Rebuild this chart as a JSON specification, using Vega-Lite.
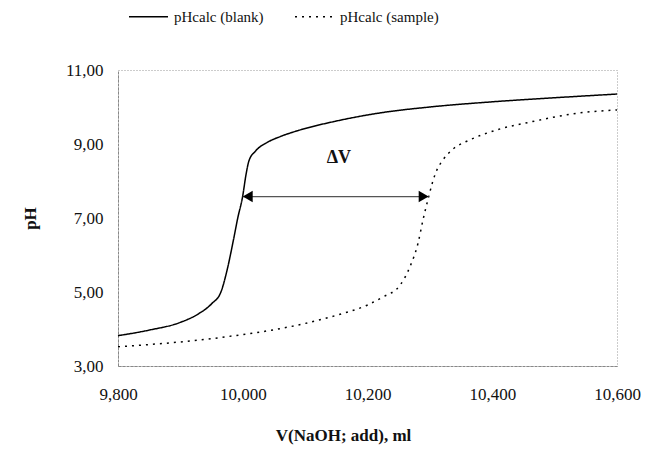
{
  "$schema": "https://vega.github.io/schema/vega-lite/v6.json",
  "width": 499,
  "height": 296,
  "autosize": {"type": "none"},
  "padding": {"left": 118, "top": 70, "right": 30, "bottom": 87},
  "background": "white",
  "config": {
    "font": "Liberation Serif",
    "locale": {"number": {"decimal": ",", "thousands": ".", "grouping": [3], "currency": ["", " €"]}},
    "view": {"stroke": "#999999", "strokeDash": [1, 2], "strokeWidth": 1},
    "axis": {
      "labelFont": "Liberation Serif", "labelFontSize": 17, "labelColor": "#111111",
      "labelOverlap": false, "labelFlush": false, "grid": false, "ticks": false,
      "titleFont": "Liberation Serif", "titleFontSize": 17, "titleFontWeight": "bold",
      "titleColor": "#111111",
      "domainColor": "#888888", "domainDash": [3, 1], "domainWidth": 1
    }
  },
  "datasets": {
    "curves": [
      {"series": "pHcalc (blank)", "V": 9.80, "pH": 3.82},
      {"series": "pHcalc (blank)", "V": 9.85, "pH": 3.97},
      {"series": "pHcalc (blank)", "V": 9.90, "pH": 4.18},
      {"series": "pHcalc (blank)", "V": 9.93, "pH": 4.42},
      {"series": "pHcalc (blank)", "V": 9.95, "pH": 4.68},
      {"series": "pHcalc (blank)", "V": 9.965, "pH": 5.0},
      {"series": "pHcalc (blank)", "V": 9.975, "pH": 5.6},
      {"series": "pHcalc (blank)", "V": 9.985, "pH": 6.4},
      {"series": "pHcalc (blank)", "V": 9.992, "pH": 7.0},
      {"series": "pHcalc (blank)", "V": 10.0, "pH": 7.6},
      {"series": "pHcalc (blank)", "V": 10.005, "pH": 8.15},
      {"series": "pHcalc (blank)", "V": 10.01, "pH": 8.55},
      {"series": "pHcalc (blank)", "V": 10.02, "pH": 8.8},
      {"series": "pHcalc (blank)", "V": 10.04, "pH": 9.05},
      {"series": "pHcalc (blank)", "V": 10.06, "pH": 9.2},
      {"series": "pHcalc (blank)", "V": 10.09, "pH": 9.37},
      {"series": "pHcalc (blank)", "V": 10.15, "pH": 9.62},
      {"series": "pHcalc (blank)", "V": 10.22, "pH": 9.84},
      {"series": "pHcalc (blank)", "V": 10.3, "pH": 10.0},
      {"series": "pHcalc (blank)", "V": 10.4, "pH": 10.14},
      {"series": "pHcalc (blank)", "V": 10.5, "pH": 10.25},
      {"series": "pHcalc (blank)", "V": 10.6, "pH": 10.35},
      {"series": "pHcalc (sample)", "V": 9.80, "pH": 3.52},
      {"series": "pHcalc (sample)", "V": 9.85, "pH": 3.58},
      {"series": "pHcalc (sample)", "V": 9.90, "pH": 3.65},
      {"series": "pHcalc (sample)", "V": 9.95, "pH": 3.74},
      {"series": "pHcalc (sample)", "V": 10.0, "pH": 3.85},
      {"series": "pHcalc (sample)", "V": 10.05, "pH": 3.98},
      {"series": "pHcalc (sample)", "V": 10.10, "pH": 4.15},
      {"series": "pHcalc (sample)", "V": 10.15, "pH": 4.37},
      {"series": "pHcalc (sample)", "V": 10.20, "pH": 4.65},
      {"series": "pHcalc (sample)", "V": 10.223, "pH": 4.85},
      {"series": "pHcalc (sample)", "V": 10.252, "pH": 5.18},
      {"series": "pHcalc (sample)", "V": 10.268, "pH": 5.68},
      {"series": "pHcalc (sample)", "V": 10.281, "pH": 6.32},
      {"series": "pHcalc (sample)", "V": 10.289, "pH": 6.95},
      {"series": "pHcalc (sample)", "V": 10.298, "pH": 7.57},
      {"series": "pHcalc (sample)", "V": 10.304, "pH": 7.95},
      {"series": "pHcalc (sample)", "V": 10.310, "pH": 8.25},
      {"series": "pHcalc (sample)", "V": 10.321, "pH": 8.57},
      {"series": "pHcalc (sample)", "V": 10.337, "pH": 8.86},
      {"series": "pHcalc (sample)", "V": 10.364, "pH": 9.11},
      {"series": "pHcalc (sample)", "V": 10.407, "pH": 9.38},
      {"series": "pHcalc (sample)", "V": 10.46, "pH": 9.59},
      {"series": "pHcalc (sample)", "V": 10.54, "pH": 9.84},
      {"series": "pHcalc (sample)", "V": 10.6, "pH": 9.92}
    ],
    "arrow": [{"V1": 10.0, "V2": 10.298, "pH": 7.58}],
    "headL": [{"V": 10.0, "pH": 7.58}],
    "headR": [{"V": 10.298, "pH": 7.58}],
    "label": [{"V": 10.154, "pH": 8.62, "text": "ΔV"}]
  },
  "layer": [
    {
      "data": {"name": "curves"},
      "mark": {"type": "line", "strokeWidth": 1.5, "interpolate": "monotone"},
      "encoding": {
        "x": {
          "field": "V", "type": "quantitative",
          "scale": {"domain": [9.8, 10.6], "nice": false, "zero": false},
          "axis": {
            "title": "V(NaOH; add), ml",
            "values": [9.8, 10.0, 10.2, 10.4, 10.6],
            "format": ".3f",
            "labelPadding": 20,
            "titleX": 225, "titleY": 69, "titleBaseline": "middle", "titleAlign": "center"
          }
        },
        "y": {
          "field": "pH", "type": "quantitative",
          "scale": {"domain": [3, 11], "nice": false, "zero": false},
          "axis": {
            "title": "pH",
            "values": [3, 4, 5, 6, 7, 8, 9, 10, 11],
            "format": ".2f",
            "labelPadding": 15,
            "titleX": -88, "titleY": 148, "titleAngle": -90,
            "titleBaseline": "middle", "titleAlign": "center"
          }
        },
        "color": {
          "field": "series", "type": "nominal",
          "scale": {"domain": ["pHcalc (blank)", "pHcalc (sample)"], "range": ["#000000", "#000000"]},
          "legend": {
            "title": null, "orient": "none", "legendX": 10, "legendY": -74,
            "direction": "horizontal", "symbolType": "stroke", "symbolSize": 1521,
            "symbolStrokeWidth": 1.5, "labelFont": "Liberation Serif", "labelFontSize": 15,
            "labelColor": "#111111", "labelOffset": 5, "columnPadding": 28, "padding": 0
          }
        },
        "strokeDash": {
          "field": "series", "type": "nominal",
          "scale": {"domain": ["pHcalc (blank)", "pHcalc (sample)"], "range": [[1, 0], [2, 5]]},
          "legend": {
            "title": null, "orient": "none", "legendX": 10, "legendY": -74,
            "direction": "horizontal", "symbolType": "stroke", "symbolSize": 1521,
            "symbolStrokeWidth": 1.5, "labelFont": "Liberation Serif", "labelFontSize": 15,
            "labelColor": "#111111", "labelOffset": 5, "columnPadding": 28, "padding": 0
          }
        }
      }
    },
    {
      "data": {"name": "arrow"},
      "mark": {"type": "rule", "color": "#555555", "strokeWidth": 1.3},
      "encoding": {
        "x": {"field": "V1", "type": "quantitative"},
        "x2": {"field": "V2"},
        "y": {"field": "pH", "type": "quantitative"}
      }
    },
    {
      "data": {"name": "headL"},
      "mark": {"type": "point", "shape": "triangle-left", "filled": true, "color": "#000000", "size": 130, "opacity": 1, "xOffset": 5},
      "encoding": {
        "x": {"field": "V", "type": "quantitative"},
        "y": {"field": "pH", "type": "quantitative"}
      }
    },
    {
      "data": {"name": "headR"},
      "mark": {"type": "point", "shape": "triangle-right", "filled": true, "color": "#000000", "size": 130, "opacity": 1, "xOffset": -5},
      "encoding": {
        "x": {"field": "V", "type": "quantitative"},
        "y": {"field": "pH", "type": "quantitative"}
      }
    },
    {
      "data": {"name": "label"},
      "mark": {"type": "text", "font": "Liberation Serif", "fontWeight": "bold", "fontSize": 18, "color": "#111111", "baseline": "middle", "align": "center"},
      "encoding": {
        "x": {"field": "V", "type": "quantitative"},
        "y": {"field": "pH", "type": "quantitative"},
        "text": {"field": "text"}
      }
    }
  ]
}
